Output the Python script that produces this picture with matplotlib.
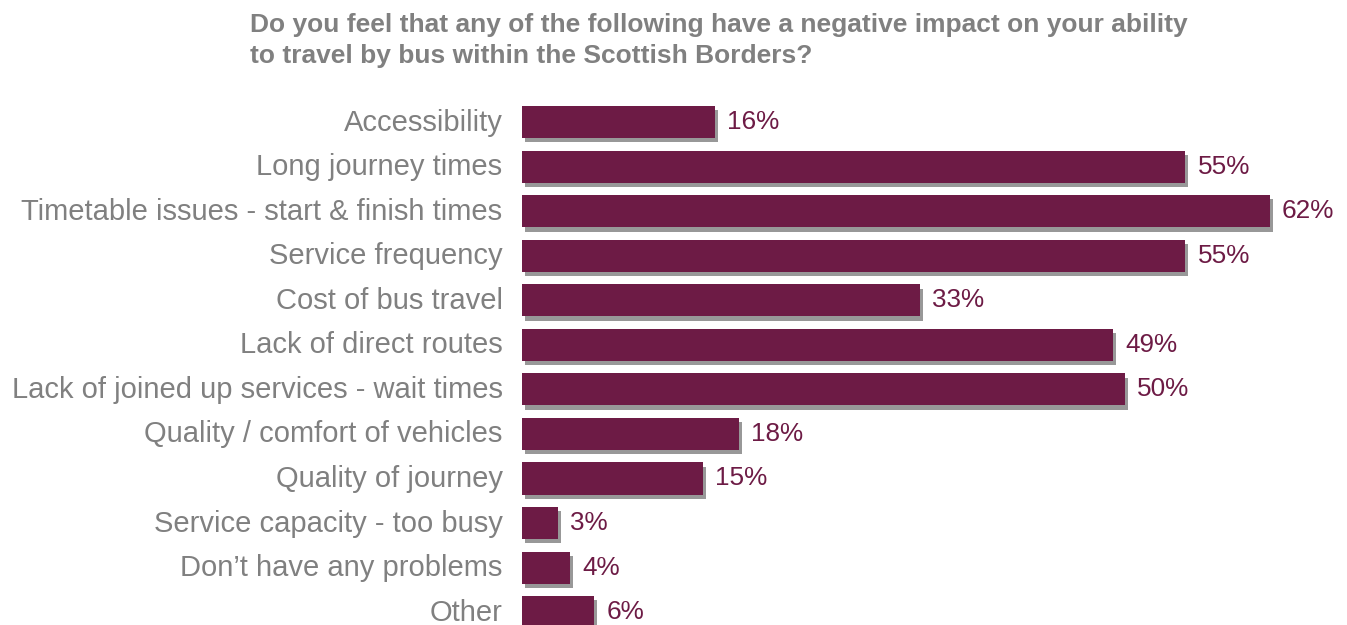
import matplotlib.pyplot as plt
import matplotlib.patheffects as pe
from matplotlib.transforms import ScaledTranslation

categories = [
    "Accessibility",
    "Long journey times",
    "Timetable issues - start & finish times",
    "Service frequency",
    "Cost of bus travel",
    "Lack of direct routes",
    "Lack of joined up services - wait times",
    "Quality / comfort of vehicles",
    "Quality of journey",
    "Service capacity - too busy",
    "Don\u2019t have any problems",
    "Other",
]
values = [16, 55, 62, 55, 33, 49, 50, 18, 15, 3, 4, 6]

title = ("Do you feel that any of the following have a negative impact on your ability\n"
         "to travel by bus within the Scottish Borders?")

bar_color = "#6D1B45"
label_gray = "#808080"

W, H = 1347, 625
fig = plt.figure(figsize=(W / 100, H / 100), dpi=100)
ax = fig.add_axes([522 / W, 0, (W - 522) / W, 525 / H])

pos = list(range(len(categories)))
bars = ax.barh(pos, values, height=0.72, color=bar_color)
for b in bars:
    b.set_path_effects([pe.SimplePatchShadow(offset=(2, -3), shadow_rgbFace="#444444",
                                             alpha=0.55),
                        pe.Normal()])

ax.set_xlim(0, 68.4)
ax.set_ylim(11.29, -0.5)

for p, v in zip(pos, values):
    ax.text(v + 1.0, p, f"{v}%", va="center", ha="left", fontsize=18.8,
            color=bar_color, family="Liberation Sans")

# category labels sit a touch higher than the bar centres
up = ScaledTranslation(0, 2.5 / 100, fig.dpi_scale_trans)
ax.set_yticks(pos)
ax.set_yticklabels(categories, fontsize=21, color=label_gray, family="Liberation Sans")
ax.tick_params(axis="y", length=0, pad=14)
for lab in ax.get_yticklabels():
    lab.set_transform(lab.get_transform() + up)
ax.set_xticks([])
for s in ax.spines.values():
    s.set_visible(False)

fig.text(250 / W, 1 - 13 / H, title, ha="left", va="top", fontsize=19,
         fontweight="bold", color=label_gray, family="Liberation Sans", linespacing=1.38)

fig.savefig("out.png", dpi=100)
